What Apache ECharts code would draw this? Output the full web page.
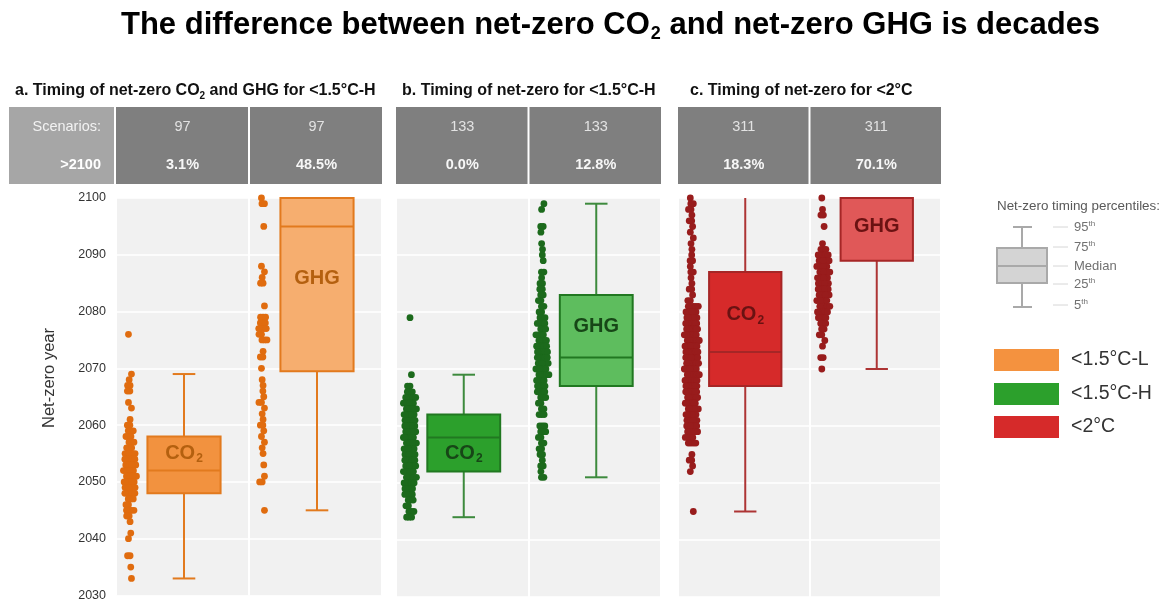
<!DOCTYPE html>
<html>
<head>
<meta charset="utf-8">
<script src="https://cdn.jsdelivr.net/npm/echarts@6/dist/echarts.min.js"></script>
<style>
  html, body { margin: 0; padding: 0; background: #ffffff; }
  #chart { width: 1164px; height: 602px; }
</style>
</head>
<body>
<div id="chart"></div>
<script>
// ---- Data -------------------------------------------------------------
const mainTitle = 'The difference between net-zero CO₂ and net-zero GHG is decades';
const panelTitles = [
  'a. Timing of net-zero CO₂ and GHG for <1.5°C-H',
  'b. Timing of net-zero for <1.5°C-H',
  'c. Timing of net-zero for <2°C'
];
const gases = ['CO₂', 'GHG'];
const rowLabels = ['Scenarios:', '>2100'];
const scenarioCounts = [97, 133, 311];
const shareAfter2100 = [['3.1%', '48.5%'], ['0.0%', '12.8%'], ['18.3%', '70.1%']];
const yearMin = 2030, yearMax = 2100, yearStep = 10;

// Percentiles per gas: [5th, 25th, median, 75th, 95th]; null = beyond 2100
const boxesA = [[2033, 2048, 2052, 2058, 2069], [2045, 2069.5, 2095, null, null]];
const boxesB = [[2044, 2052, 2058, 2062, 2069], [2051, 2067, 2072, 2083, 2099]];
const boxesC = [[2045, 2067, 2073, 2087, null], [2070, 2089, null, null, null]];

// Individual scenarios: [net-zero year, number of scenarios]
const dotsA_CO2 = [[2076,1],[2069,1],[2068,1],[2067,2],[2066,2],[2064,1],[2063,1],[2061,1],[2060,2],[2059,3],[2058,3],[2057,3],[2056,3],[2055,6],[2054,5],[2053,7],[2052,7],[2051,7],[2050,9],[2049,6],[2048,5],[2047,3],[2046,2],[2045,4],[2044,2],[2043,1],[2041,1],[2040,1],[2037,2],[2035,1],[2033,1]];
const dotsA_GHG = [[2100,1],[2099,2],[2095,1],[2088,1],[2087,1],[2086,1],[2085,2],[2081,1],[2079,3],[2078,3],[2077,4],[2076,2],[2075,3],[2073,1],[2072,2],[2070,1],[2068,1],[2067,1],[2066,1],[2065,1],[2064,2],[2063,1],[2062,1],[2061,1],[2060,2],[2059,1],[2058,1],[2057,1],[2056,1],[2055,1],[2053,1],[2051,1],[2050,2],[2045,1]];
const dotsB_CO2 = [[2079,1],[2069,1],[2067,2],[2066,3],[2065,5],[2064,7],[2063,8],[2062,8],[2061,9],[2060,8],[2059,8],[2058,9],[2057,7],[2056,6],[2055,6],[2054,5],[2053,6],[2052,5],[2051,5],[2050,5],[2049,4],[2048,4],[2047,3],[2046,2],[2045,3],[2044,3]];
const dotsB_GHG = [[2099,1],[2098,1],[2095,2],[2094,1],[2092,1],[2091,1],[2090,1],[2089,1],[2087,2],[2086,1],[2085,2],[2084,2],[2083,2],[2082,2],[2081,2],[2080,2],[2079,3],[2078,4],[2077,3],[2076,4],[2075,4],[2074,5],[2073,5],[2072,5],[2071,6],[2070,6],[2069,5],[2068,4],[2067,4],[2066,4],[2065,3],[2064,2],[2063,2],[2062,3],[2060,3],[2059,3],[2058,2],[2057,2],[2056,2],[2055,2],[2054,1],[2053,2],[2052,1],[2051,2]];
const dotsC_CO2 = [[2100,1],[2099,2],[2098,2],[2097,1],[2096,2],[2095,1],[2094,1],[2093,1],[2092,1],[2091,1],[2090,1],[2089,2],[2088,1],[2087,2],[2086,1],[2085,1],[2084,2],[2083,1],[2082,2],[2081,5],[2080,7],[2079,8],[2078,10],[2077,10],[2076,11],[2075,11],[2074,12],[2073,11],[2072,12],[2071,11],[2070,12],[2069,11],[2068,11],[2067,10],[2066,10],[2065,9],[2064,9],[2063,8],[2062,8],[2061,7],[2060,6],[2059,5],[2058,4],[2057,4],[2055,1],[2054,2],[2053,1],[2052,1],[2045,1]];
const dotsC_GHG = [[2100,1],[2098,1],[2097,2],[2095,1],[2092,1],[2091,3],[2090,5],[2089,6],[2088,7],[2087,6],[2086,7],[2085,7],[2084,7],[2083,7],[2082,6],[2081,5],[2080,5],[2079,4],[2078,3],[2077,2],[2076,2],[2075,1],[2074,1],[2072,2],[2070,1]];

const legendTitle = 'Net-zero timing percentiles:';
const percentileNames = [['95', 'th'], ['75', 'th'], ['Median', ''], ['25', 'th'], ['5', 'th']];
const categoryNames = ['<1.5°C-L', '<1.5°C-H', '<2°C'];

// ---- Layout & style ---------------------------------------------------
const FONT = '"Liberation Sans", Arial, Helvetica, sans-serif';
const grids = [
  { left: 116, top: 198, width: 266, height: 399 },
  { left: 396, top: 198, width: 265, height: 399 },
  { left: 678, top: 198, width: 263, height: 399 }
];
const panelStyles = [
  { fill: ['#f2923f', '#f6ae6f'], stroke: '#e27a1e', whisker: '#e27a1e', dot: '#e06c0f', text: '#b4600f' },
  { fill: ['#2ca02c', '#5ebd5e'], stroke: '#217821', whisker: '#3d8a3d', dot: '#1c6a1c', text: '#174617' },
  { fill: ['#d62a2a', '#e05858'], stroke: '#a62626', whisker: '#ad3434', dot: '#981c1c', text: '#6a1212' }
];
// where each box's name sits, in years
const labelYears = [[2055.0, 2085.9], [2055.2, 2077.5], [2079.5, 2095]];
const panelBoxes = [boxesA, boxesB, boxesC];
const panelDots = [[dotsA_CO2, dotsA_GHG], [dotsB_CO2, dotsB_GHG], [dotsC_CO2, dotsC_GHG]];
const titleX = [15, 402, 690];

// split a string at the subscript two into rich-text tokens
function richSub(str, main, sub) {
  return str.split('₂').map((part, i) =>
    (i ? '{' + sub + '|2}' : '') + (part ? '{' + main + '|' + part + '}' : '')
  ).join('');
}

// horizontal spread of scenarios sharing the same year (px)
const slots = [0, -2.5, 2.5, -5, 5, -1.2, 1.2, -3.7, 3.7, -6, 6, -0.6, 0.6, -1.8, 1.8];
function spreadDots(list, gasIdx) {
  const out = [];
  list.forEach(([year, n]) => {
    const shift = (year % 2 ? 0.8 : -0.8) + ((year % 3) - 1) * 0.7;
    for (let k = 0; k < n; k++) out.push([gasIdx, year, slots[k % slots.length] + shift]);
  });
  return out;
}

function boxRenderer(p) {
  const st = panelStyles[p];
  return function (params, api) {
    const cs = params.coordSys;
    const top = cs.y, bottom = cs.y + cs.height;
    const idx = api.value(0);
    const band = api.size([1, 0])[0];
    const cx = api.coord([idx, yearMin])[0] + 1.5;
    const half = band * 0.275, cap = band * 0.085;
    const raw = (v) => api.coord([idx, v])[1];
    const has = (v) => !isNaN(v);
    const clampY = (y) => Math.max(top, Math.min(bottom, y));
    const p5 = api.value(1), q1 = api.value(2), med = api.value(3), q3 = api.value(4), p95 = api.value(5);
    const yQ1 = raw(q1);
    const yQ3 = has(q3) ? clampY(raw(q3)) : top;
    const yP95 = has(p95) ? clampY(raw(p95)) : top;
    const yP5 = raw(p5);
    const lineStyle = { stroke: st.whisker, lineWidth: 2 };
    const children = [];
    if (yP95 < yQ3) children.push({ type: 'line', shape: { x1: cx, y1: yP95, x2: cx, y2: yQ3 }, style: lineStyle });
    if (has(p95) && raw(p95) >= top) children.push({ type: 'line', shape: { x1: cx - cap, y1: yP95, x2: cx + cap, y2: yP95 }, style: lineStyle });
    children.push({ type: 'line', shape: { x1: cx, y1: yQ1, x2: cx, y2: yP5 }, style: lineStyle });
    children.push({ type: 'line', shape: { x1: cx - cap, y1: yP5, x2: cx + cap, y2: yP5 }, style: lineStyle });
    children.push({ type: 'rect', shape: { x: cx - half, y: yQ3, width: half * 2, height: yQ1 - yQ3 },
      style: { fill: st.fill[idx], stroke: st.stroke, lineWidth: 2 } });
    if (has(med) && raw(med) >= top) children.push({ type: 'line', shape: { x1: cx - half, y1: raw(med), x2: cx + half, y2: raw(med) },
      style: { stroke: st.stroke, lineWidth: 2 } });
    const tokenBase = { fontFamily: FONT, fontWeight: 'bold', fill: st.text, color: st.text };
    children.push({
      type: 'text',
      style: {
        x: cx, y: raw(labelYears[p][idx]),
        text: richSub(gases[idx], 'm', 's'),
        align: 'center', verticalAlign: 'middle', textAlign: 'center', textVerticalAlign: 'middle',
        rich: {
          m: Object.assign({ fontSize: 20 }, tokenBase),
          s: Object.assign({ fontSize: 12, padding: [11, 0, 0, 1] }, tokenBase)
        }
      }
    });
    return { type: 'group', children };
  };
}

function dotRenderer(p) {
  const color = panelStyles[p].dot;
  return function (params, api) {
    const idx = api.value(0);
    const band = api.size([1, 0])[0];
    const pt = api.coord([idx, api.value(1)]);
    return { type: 'circle', shape: { cx: pt[0] - band * 0.395 + api.value(2), cy: pt[1], r: 3.4 }, style: { fill: color } };
  };
}

const xAxes = [], yAxes = [], series = [];
grids.forEach((g, p) => {
  xAxes.push({
    type: 'category', gridIndex: p, data: gases, boundaryGap: true,
    axisLine: { show: false }, axisTick: { show: false }, axisLabel: { show: false },
    splitLine: { show: true, lineStyle: { color: '#ffffff', width: 2 } }
  });
  yAxes.push({
    type: 'value', gridIndex: p, min: yearMin, max: yearMax, interval: yearStep,
    axisLine: { show: false }, axisTick: { show: false },
    axisLabel: { show: p === 0, color: '#333333', fontSize: 12.5, fontFamily: FONT, margin: 10, formatter: (v) => String(v) },
    splitLine: { show: true, lineStyle: { color: '#ffffff', width: 1.5 } }
  });
  series.push({
    type: 'custom', xAxisIndex: p, yAxisIndex: p, z: 2,
    renderItem: dotRenderer(p), encode: { x: 0, y: 1 },
    data: spreadDots(panelDots[p][0], 0).concat(spreadDots(panelDots[p][1], 1)),
    silent: true, animation: false
  });
  series.push({
    type: 'custom', xAxisIndex: p, yAxisIndex: p, z: 3,
    renderItem: boxRenderer(p), encode: { x: 0, y: [1, 2, 3, 4, 5] },
    data: panelBoxes[p].map((b, i) => [i].concat(b)),
    silent: true, animation: false
  });
});

// ---- Header tables, titles, legends ---------------------------------
const graphics = [];
const hTop = 107, hH = 77, row1 = 127, row2 = 165;
const txt = (x, y, text, font, fill, align) => ({
  type: 'text', x, y, silent: true,
  style: { text, font, fill, align: align || 'center', textAlign: align || 'center', verticalAlign: 'middle', textVerticalAlign: 'middle' }
});
graphics.push({ type: 'rect', shape: { x: 9, y: hTop, width: 105, height: hH }, style: { fill: '#a6a6a6' }, silent: true });
graphics.push(txt(101, row1, rowLabels[0], '14.5px ' + FONT, '#f2f2f2', 'right'));
graphics.push(txt(101, row2, rowLabels[1], 'bold 14.5px ' + FONT, '#ffffff', 'right'));
grids.forEach((g, p) => {
  const w = g.width / 2;
  for (let i = 0; i < 2; i++) {
    const x0 = g.left + i * w + (i ? 1 : 0);
    graphics.push({ type: 'rect', shape: { x: x0, y: hTop, width: w - 1, height: hH }, style: { fill: '#7f7f7f' }, silent: true });
    graphics.push(txt(x0 + w / 2, row1, String(scenarioCounts[p]), '14.5px ' + FONT, '#e3e3e3'));
    graphics.push(txt(x0 + w / 2, row2, shareAfter2100[p][i], 'bold 14.5px ' + FONT, '#f7f7f7'));
  }
  graphics.push({
    type: 'text', x: titleX[p], y: 91, silent: true,
    style: {
      text: richSub(panelTitles[p], 't', 's'),
      align: 'left', textAlign: 'left', verticalAlign: 'middle', textVerticalAlign: 'middle',
      rich: {
        t: { fontFamily: FONT, fontWeight: 'bold', fontSize: 16, fill: '#111111', color: '#111111' },
        s: { fontFamily: FONT, fontWeight: 'bold', fontSize: 10, fill: '#111111', color: '#111111', padding: [10, 0, 0, 0] }
      }
    }
  });
});
// y axis name
graphics.push({
  type: 'text', x: 49, y: 378, rotation: Math.PI / 2, silent: true,
  style: { text: 'Net-zero year', font: '16.5px ' + FONT, fill: '#333333', align: 'center', textAlign: 'center', verticalAlign: 'middle', textVerticalAlign: 'middle' }
});
// percentile key
graphics.push(txt(997, 206, legendTitle, '13.4px ' + FONT, '#595959', 'left'));
const keyGrey = '#a9a9a9';
const keyYs = [227, 248, 266, 283, 307];
graphics.push({ type: 'line', shape: { x1: 1022, y1: keyYs[0], x2: 1022, y2: keyYs[1] }, style: { stroke: keyGrey, lineWidth: 2 }, silent: true });
graphics.push({ type: 'line', shape: { x1: 1022, y1: keyYs[3], x2: 1022, y2: keyYs[4] }, style: { stroke: keyGrey, lineWidth: 2 }, silent: true });
graphics.push({ type: 'line', shape: { x1: 1013, y1: keyYs[0], x2: 1032, y2: keyYs[0] }, style: { stroke: keyGrey, lineWidth: 2 }, silent: true });
graphics.push({ type: 'line', shape: { x1: 1013, y1: keyYs[4], x2: 1032, y2: keyYs[4] }, style: { stroke: keyGrey, lineWidth: 2 }, silent: true });
graphics.push({ type: 'rect', shape: { x: 997, y: keyYs[1], width: 50, height: keyYs[3] - keyYs[1] }, style: { fill: '#d4d4d4', stroke: keyGrey, lineWidth: 2 }, silent: true });
graphics.push({ type: 'line', shape: { x1: 997, y1: keyYs[2], x2: 1047, y2: keyYs[2] }, style: { stroke: keyGrey, lineWidth: 2 }, silent: true });
const labelYs = [227, 247, 266, 284, 305];
percentileNames.forEach(([n, sup], i) => {
  graphics.push({ type: 'line', shape: { x1: 1053, y1: labelYs[i], x2: 1068, y2: labelYs[i] }, style: { stroke: '#d6d6d6', lineWidth: 1 }, silent: true });
  graphics.push({
    type: 'text', x: 1074, y: labelYs[i], silent: true,
    style: {
      text: '{n|' + n + '}' + (sup ? '{u|' + sup + '}' : ''),
      align: 'left', textAlign: 'left', verticalAlign: 'middle', textVerticalAlign: 'middle',
      rich: {
        n: { fontFamily: FONT, fontSize: 13, fill: '#707070', color: '#707070' },
        u: { fontFamily: FONT, fontSize: 8, fill: '#707070', color: '#707070', padding: [0, 0, 7, 0] }
      }
    }
  });
});
// category key
const swatchFill = ['#f4923f', '#2ca02c', '#d62a2a'];
const swatchYs = [349, 383, 416];
categoryNames.forEach((name, i) => {
  graphics.push({ type: 'rect', shape: { x: 994, y: swatchYs[i], width: 65, height: 22 }, style: { fill: swatchFill[i] }, silent: true });
  graphics.push(txt(1071, swatchYs[i] + 11, name, '19.5px ' + FONT, '#333333', 'left'));
});

const chart = echarts.init(document.getElementById('chart'), null, { renderer: 'canvas' });
chart.setOption({
  animation: false,
  backgroundColor: '#ffffff',
  title: {
    text: richSub(mainTitle, 'b', 's'),
    left: 116, top: 3,
    textStyle: {
      rich: {
        b: { fontFamily: FONT, fontWeight: 'bold', fontSize: 31, color: '#000000' },
        s: { fontFamily: FONT, fontWeight: 'bold', fontSize: 18, color: '#000000', padding: [17, 0, 0, 1] }
      }
    }
  },
  grid: grids.map(g => Object.assign({ show: true, backgroundColor: '#f1f1f1', borderWidth: 0 }, g)),
  xAxis: xAxes,
  yAxis: yAxes,
  series: series,
  graphic: graphics
});
</script>
</body>
</html>
